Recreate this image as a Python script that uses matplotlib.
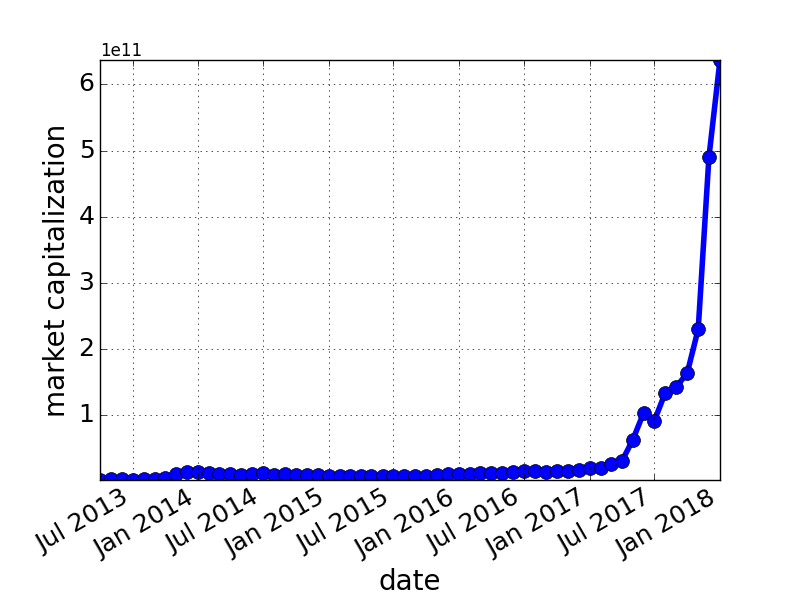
import numpy as np
import pandas as pd
import matplotlib
matplotlib.use('Agg')
import matplotlib.pyplot as plt
import matplotlib.dates as mdates

# monthly total market capitalization, in billions of USD
dates = pd.date_range('2013-04-01', '2018-01-01', freq='MS')
cap_2013 = [1.7, 2.5, 2.5, 2.2, 2.8, 3.5, 4.5, 10.5, 14.5]
cap_2014 = [14.5, 12, 11, 10.5, 10, 11, 12, 10, 11, 9, 9, 9]
cap_2015 = [8, 8, 8, 8, 7.5, 7.5, 8, 7.5, 8, 8.5, 9, 11]
cap_2016 = [11, 10.5, 12, 12, 12, 14, 16, 15, 14, 15, 15, 17]
cap_2017 = [20, 20.5, 25.5, 30, 61.5, 103, 91, 134, 143, 163, 230, 490]
cap_2018 = [637]

market_cap = np.array(cap_2013 + cap_2014 + cap_2015 + cap_2016 + cap_2017 + cap_2018) * 1e9

plt.style.use('classic')
plt.rcParams['axes.autolimit_mode'] = 'data'
fig = plt.figure(figsize=(8, 6), dpi=100)
ax = fig.add_subplot(111)
ax.plot(dates, market_cap, 'b-o', linewidth=4, markersize=10)
ax.xaxis.set_major_locator(mdates.MonthLocator(bymonth=[1, 7]))
ax.xaxis.set_major_formatter(mdates.DateFormatter('%b %Y'))
ax.tick_params(labelsize=18)
plt.xlabel('date', fontsize=20)
plt.ylabel('market capitalization', fontsize=20)
plt.grid(True)
fig.autofmt_xdate()

plt.savefig('out.png')
